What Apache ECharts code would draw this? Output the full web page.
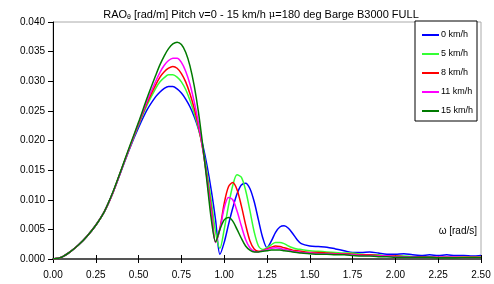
<!DOCTYPE html>
<html>
<head>
<meta charset="utf-8">
<script src="https://cdn.jsdelivr.net/npm/echarts@6/dist/echarts.min.js"></script>
<style>
	html, body { margin: 0; padding: 0; background: #fff; }
	#chart { width: 494px; height: 284px; }
</style>
</head>
<body>
<div id="chart"></div>
<script>
// frequency omega [rad/s]
var omega = [0, 0.05, 0.1, 0.15, 0.2, 0.25, 0.3, 0.35, 0.4, 0.45, 0.5, 0.55,
	0.6, 0.625, 0.65, 0.675, 0.7, 0.725, 0.75, 0.775, 0.8, 0.825, 0.85,
	0.875, 0.9, 0.925, 0.95, 0.975, 1.0, 1.025, 1.05, 1.075, 1.1, 1.125, 1.15, 1.175, 1.2, 1.225, 1.25, 1.275, 1.3, 1.325, 1.35, 1.375, 1.4, 1.425,
	1.45, 1.5, 1.55, 1.6, 1.65, 1.7, 1.75, 1.8, 1.85, 1.9, 1.95, 2.0, 2.05, 2.1, 2.15, 2.2, 2.25, 2.3, 2.35, 2.4, 2.45, 2.5];

var speeds = ['0 km/h', '5 km/h', '8 km/h', '11 km/h', '15 km/h'];
var colors = ['#0000ff', '#33ff33', '#ff0000', '#ff00ff', '#007a00'];

var rao0 = [0, 0.0003, 0.0012, 0.0024, 0.0039, 0.0057, 0.0080, 0.0112, 0.0150, 0.0188, 0.0222, 0.0252,
	0.0274, 0.0282, 0.0288, 0.0291, 0.0291, 0.0287, 0.0280, 0.0270, 0.0257, 0.0240, 0.0219,
	0.0192, 0.0157, 0.0115, 0.0065, 0.0008, 0.0028, 0.0058, 0.0086, 0.0110, 0.0125, 0.0128, 0.0119, 0.0097, 0.0066, 0.0036, 0.0019, 0.0030, 0.0045, 0.0054, 0.0056, 0.0052, 0.0043, 0.0033,
	0.0026, 0.0022, 0.0021, 0.0020, 0.0017, 0.0014, 0.0011, 0.0011, 0.0012, 0.0010, 0.0008, 0.0008, 0.0009, 0.0007, 0.0006, 0.0007, 0.0006, 0.0007, 0.0006, 0.0006, 0.0005, 0.0006];

var rao5 = [0, 0.0003, 0.0012, 0.0024, 0.0039, 0.0057, 0.0080, 0.0112, 0.0151, 0.0189, 0.0226, 0.0260,
	0.0288, 0.0299, 0.0306, 0.0311, 0.0311, 0.0307, 0.0299, 0.0286, 0.0268, 0.0246, 0.0220,
	0.0187, 0.0145, 0.0097, 0.0045, 0.0018, 0.0050, 0.0090, 0.0124, 0.0142, 0.0138, 0.0116, 0.0082, 0.0046, 0.0022, 0.0016, 0.0019, 0.0024, 0.0028, 0.0028, 0.0026, 0.0022, 0.0019, 0.0017,
	0.0016, 0.0014, 0.0013, 0.0012, 0.0011, 0.0010, 0.0010, 0.0008, 0.0007, 0.0007, 0.0005, 0.0005, 0.0005, 0.0004, 0.0004, 0.0004, 0.0003, 0.0004, 0.0003, 0.0003, 0.0003, 0.0003];

var rao8 = [0, 0.0003, 0.0012, 0.0024, 0.0039, 0.0057, 0.0080, 0.0112, 0.0151, 0.0190, 0.0228, 0.0264,
	0.0294, 0.0307, 0.0316, 0.0322, 0.0325, 0.0322, 0.0313, 0.0299, 0.0279, 0.0254, 0.0224,
	0.0185, 0.0137, 0.0083, 0.0028, 0.0052, 0.0094, 0.0122, 0.0129, 0.0117, 0.0090, 0.0058, 0.0031, 0.0017, 0.0013, 0.0014, 0.0017, 0.0020, 0.0022, 0.0021, 0.0019, 0.0017, 0.0015, 0.0014,
	0.0013, 0.0011, 0.0011, 0.0010, 0.0009, 0.0009, 0.0008, 0.0007, 0.0007, 0.0006, 0.0005, 0.0005, 0.0004, 0.0004, 0.0004, 0.0003, 0.0003, 0.0003, 0.0003, 0.0003, 0.0003, 0.0003];

var rao11 = [0, 0.0003, 0.0012, 0.0024, 0.0039, 0.0057, 0.0080, 0.0112, 0.0151, 0.0190, 0.0229, 0.0267,
	0.0300, 0.0315, 0.0327, 0.0335, 0.0339, 0.0339, 0.0332, 0.0317, 0.0295, 0.0265, 0.0229,
	0.0186, 0.0134, 0.0076, 0.0028, 0.0050, 0.0086, 0.0104, 0.0100, 0.0081, 0.0056, 0.0033, 0.0019, 0.0013, 0.0012, 0.0014, 0.0016, 0.0018, 0.0019, 0.0018, 0.0016, 0.0015, 0.0013, 0.0012,
	0.0011, 0.0010, 0.0009, 0.0009, 0.0008, 0.0008, 0.0007, 0.0006, 0.0006, 0.0005, 0.0005, 0.0004, 0.0004, 0.0004, 0.0003, 0.0003, 0.0003, 0.0003, 0.0003, 0.0002, 0.0002, 0.0002];

var rao15 = [0, 0.0003, 0.0012, 0.0024, 0.0039, 0.0057, 0.0080, 0.0113, 0.0152, 0.0192, 0.0231, 0.0272,
	0.0310, 0.0328, 0.0343, 0.0355, 0.0363, 0.0366, 0.0362, 0.0349, 0.0326, 0.0292, 0.0247,
	0.0191, 0.0129, 0.0066, 0.0029, 0.0050, 0.0066, 0.0070, 0.0064, 0.0050, 0.0035, 0.0022, 0.0015, 0.0012, 0.0012, 0.0013, 0.0014, 0.0015, 0.0015, 0.0015, 0.0014, 0.0013, 0.0012, 0.0011,
	0.0010, 0.0009, 0.0008, 0.0008, 0.0007, 0.0007, 0.0006, 0.0005, 0.0005, 0.0004, 0.0004, 0.0003, 0.0003, 0.0003, 0.0003, 0.0003, 0.0002, 0.0002, 0.0002, 0.0002, 0.0002, 0.0002];

var raoList = [rao0, rao5, rao8, rao11, rao15];

function pairs(xs, ys) {
	var out = [];
	for (var i = 0; i < xs.length; i++) {
		out.push([xs[i], ys[i]]);
	}
	return out;
}

var font = 'Liberation Sans, Arial, sans-serif';
var myChart = echarts.init(document.getElementById('chart'), null, {renderer: 'canvas'});

var series = [];
for (var k = 0; k < speeds.length; k++) {
	series.push({
		name : speeds[k],
		type : 'line',
		data : pairs(omega, raoList[k]),
		smooth : 0.3,
		symbol : 'none',
		lineStyle : { color : colors[k], width : 1.5 },
		itemStyle : { color : colors[k] },
		z : 3 + k
	});
}

myChart.setOption({
	animation : false,
	backgroundColor : '#fff',
	title : {
		text : '{t|RAO}{s|θ}{t| [rad/m] Pitch v=0 - 15 km/h }{m|μ}{t|=180 deg Barge B3000 FULL}',
		left : 256,
		textAlign : 'center',
		top : 3,
		textStyle : {
			fontWeight : 'normal',
			rich : {
				t : { fontFamily : font, fontSize : 11, fontWeight : 'normal', color : '#000' },
				s : { fontFamily : font, fontSize : 7, fontWeight : 'normal', color : '#000', verticalAlign : 'bottom', padding : [6, 0, 0, 0] },
				m : { fontFamily : 'DejaVu Serif', fontSize : 10, fontWeight : 'normal', color : '#000' }
			}
		}
	},
	legend : {
		data : speeds,
		orient : 'vertical',
		left : 415,
		top : 21,
		padding : [8, 4, 4, 7],
		itemGap : 7,
		itemWidth : 17,
		itemHeight : 2,
		icon : 'rect',
		backgroundColor : '#fff',
		borderColor : '#000',
		borderWidth : 1,
		textStyle : { fontFamily : font, fontSize : 9, color : '#000', lineHeight : 12, padding : [0, 0, 0, -3] }
	},
	grid : {
		left : 53,
		right : 13,
		top : 22,
		bottom : 25,
		show : true,
		borderColor : '#aaa',
		borderWidth : 1
	},
	xAxis : [ {
		type : 'value',
		min : 0,
		max : 2.5,
		interval : 0.25,
		axisLine : { lineStyle : { color : '#555', width : 2 } },
		axisTick : { show : true, length : 4, lineStyle : { color : '#000' } },
		axisLabel : { margin : 11, fontFamily : font, fontSize : 10, color : '#000', formatter : function(v) { return v.toFixed(2); } },
		splitLine : { show : false }
	}, {
		type : 'value',
		position : 'bottom',
		min : 0,
		max : 2.5,
		interval : 0.25,
		axisLine : { show : false },
		axisTick : { show : true, inside : true, length : 4, lineStyle : { color : '#000' } },
		axisLabel : { show : false },
		splitLine : { show : false }
	} ],
	yAxis : {
		type : 'value',
		min : 0,
		max : 0.04,
		interval : 0.005,
		axisLine : { show : true, lineStyle : { color : '#000', width : 1 } },
		axisTick : { show : true, length : 5, lineStyle : { color : '#000' } },
		axisLabel : { margin : 8, fontFamily : font, fontSize : 10, color : '#000', formatter : function(v) { return v.toFixed(3); } },
		splitLine : { show : false }
	},
	graphic : [ {
		type : 'text',
		right : 17,
		top : 226,
		style : {
			text : 'ω [rad/s]',
			font : '10px ' + font,
			fill : '#000'
		}
	} ],
	series : series
});
</script>
</body>
</html>
